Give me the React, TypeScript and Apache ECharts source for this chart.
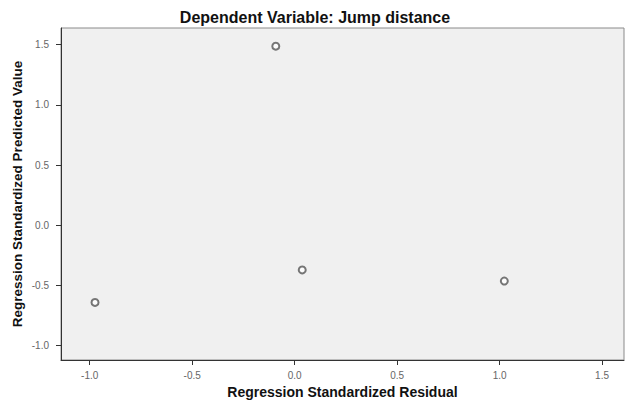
import React, { useEffect, useRef } from "react";
import * as echarts from "echarts";

const residuals = [-0.974, 0.037, 1.023, -0.092];
const predicted = [-0.641, -0.371, -0.463, 1.488];
const xTicks = [-1.0, -0.5, 0.0, 0.5, 1.0, 1.5];
const yTicks = [-1.0, -0.5, 0.0, 0.5, 1.0, 1.5];
const titleText = "Dependent Variable: Jump distance";
const xName = "Regression Standardized Residual";
const yName = "Regression Standardized Predicted Value";

export default function App() {
  const ref = useRef<HTMLDivElement>(null);
  useEffect(() => {
    if (!ref.current) return;
    const chart = echarts.init(ref.current, undefined, { renderer: "svg" });
    const font = "'Liberation Sans', Arial, sans-serif";
    chart.setOption({
      animation: false,
      backgroundColor: "#ffffff",
      title: {
        text: titleText,
        left: "center",
        top: 4,
        textStyle: { fontFamily: font, fontSize: 16, fontWeight: "bold", color: "#111" },
      },
      grid: {
        left: 61,
        right: 6,
        top: 28,
        bottom: 41,
        containLabel: false,
        outerBoundsMode: "none",
        show: true,
        backgroundColor: "#f0f0f0",
        borderColor: "#8a8a8a",
        borderWidth: 1,
      },
      xAxis: {
        type: "value",
        min: -1.14,
        max: 1.607,
        name: xName,
        nameLocation: "middle",
        nameGap: 25,
        nameMoveOverlap: false,
        nameTextStyle: { fontFamily: font, fontSize: 14, fontWeight: "bold", color: "#111" },
        axisLine: { show: true, onZero: false, lineStyle: { color: "#333", width: 1 } },
        axisTick: { show: true, customValues: xTicks, length: 5, lineStyle: { color: "#333" } },
        axisLabel: {
          customValues: xTicks,
          formatter: (v: number) => v.toFixed(1),
          fontFamily: font,
          fontSize: 10,
          color: "#666",
          margin: 10,
        },
        splitLine: { show: false },
      },
      yAxis: {
        type: "value",
        min: -1.119,
        max: 1.639,
        name: yName,
        nameLocation: "middle",
        nameGap: 37,
        nameMoveOverlap: false,
        nameTextStyle: { fontFamily: font, fontSize: 13.5, fontWeight: "bold", color: "#111" },
        axisLine: { show: true, onZero: false, lineStyle: { color: "#333", width: 1 } },
        axisTick: { show: true, customValues: yTicks, length: 5, lineStyle: { color: "#333" } },
        axisLabel: {
          customValues: yTicks,
          formatter: (v: number) => v.toFixed(1),
          fontFamily: font,
          fontSize: 10,
          color: "#666",
          margin: 12,
        },
        splitLine: { show: false },
      },
      series: [
        {
          type: "scatter",
          data: residuals.map((r, i) => [r, predicted[i]]),
          symbol: "emptyCircle",
          symbolSize: 7,
          itemStyle: { color: "#555", borderColor: "#555", borderWidth: 1.3 },
        },
      ],
    });
    return () => chart.dispose();
  }, []);
  return (
    <div
      ref={ref}
      style={{ position: "absolute", left: 0, top: 0, width: 630, height: 401 }}
    />
  );
}
